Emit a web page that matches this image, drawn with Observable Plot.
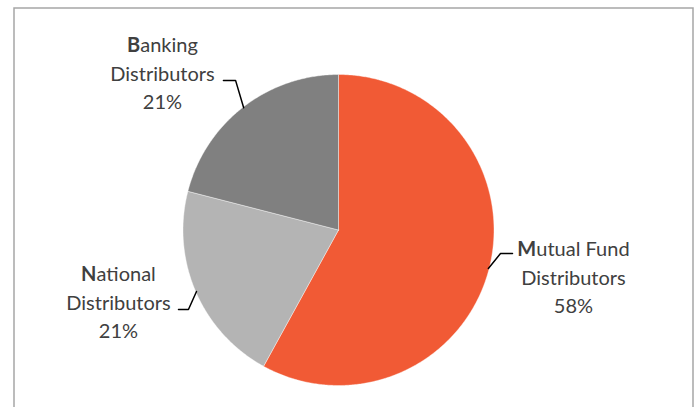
<!DOCTYPE html>
<html>
<head>
<meta charset="utf-8">
<script src="https://cdn.jsdelivr.net/npm/d3@7"></script>
<script src="https://cdn.jsdelivr.net/npm/@observablehq/plot@0.6"></script>
<style>
  html, body { margin: 0; padding: 0; background: #fff; overflow: hidden; }
</style>
</head>
<body>
<div id="chart"></div>
<script>
// ---- data ----
const categories = ["Mutual Fund Distributors", "National Distributors", "Banking Distributors"];
const labelLines = ["Mutual Fund\nDistributors", "National\nDistributors", "Banking\nDistributors"];
const shares = [58, 21, 21];
const colors = ["#F15A35", "#B4B4B4", "#808080"];

// ---- layout (not data) ----
const labelPos = [
  {x: 1.511, y: -0.293, elbow: [1.119, 1.042]},
  {x: -1.415, y: -0.453, elbow: [-1.029, -0.965]},
  {x: -1.132, y: 1.019, elbow: [-0.740, -0.662]}
];
const elbowY = [-0.151, -0.511, 0.962];

const arcs = d3.pie().sort(null).value(d => d)(shares);

// slice polygons in unit-circle data space (angle 0 at top, clockwise)
const slicePts = [];
arcs.forEach((a, i) => {
  const cat = categories[i];
  slicePts.push({cat, x: 0, y: 0});
  const n = Math.max(2, Math.ceil((a.endAngle - a.startAngle) / (Math.PI / 360)));
  for (let k = 0; k <= n; k++) {
    const t = a.startAngle + (a.endAngle - a.startAngle) * k / n;
    slicePts.push({cat, x: Math.sin(t), y: Math.cos(t)});
  }
  slicePts.push({cat, x: 0, y: 0});
});

const labels = arcs.map((a, i) => ({
  cat: categories[i],
  text: labelLines[i] + "\n" + shares[i] + "%",
  x: labelPos[i].x,
  y: labelPos[i].y
}));

// leader lines: label elbow -> edge of slice at its mid-angle
const leaders = [];
arcs.forEach((a, i) => {
  const m = (a.startAngle + a.endAngle) / 2;
  const cat = categories[i];
  leaders.push({cat, x: labelPos[i].elbow[0], y: elbowY[i]});
  leaders.push({cat, x: labelPos[i].elbow[1], y: elbowY[i]});
  leaders.push({cat, x: Math.sin(m) * 0.995, y: Math.cos(m) * 0.995});
});

const cx = 338, cy = 229.5, r = 155.5;

const plot = Plot.plot({
  width: 696,
  height: 407,
  margin: 0,
  x: {domain: [-1, 1], range: [cx - r, cx + r], axis: null},
  y: {domain: [-1, 1], range: [cy + r, cy - r], axis: null},
  color: {domain: categories, range: colors},
  style: {fontFamily: "Lato, 'Noto Sans', sans-serif", background: "#fff"},
  marks: [
    Plot.frame({stroke: "#a6a6a6", strokeWidth: 1.5, insetLeft: 13.5, insetTop: 7.5, insetRight: 3.5, insetBottom: -10}),
    Plot.line(slicePts, {x: "x", y: "y", z: "cat", fill: "cat", stroke: "#fff", strokeWidth: 0.4, curve: "linear"}),
    Plot.line(leaders, {x: "x", y: "y", z: "cat", stroke: "#000", strokeWidth: 1.5}),
    Plot.text(labels, {x: "x", y: "y", text: "text", fontSize: 20, lineHeight: 1.43, fill: "#404040", textAnchor: "middle"})
  ]
});

// bold the first letter of each label
plot.querySelectorAll("g[aria-label='text'] text").forEach(t => {
  const first = t.querySelector("tspan");
  if (!first) return;
  const s = first.textContent;
  first.textContent = "";
  const b = document.createElementNS("http://www.w3.org/2000/svg", "tspan");
  b.setAttribute("font-weight", "bold");
  b.textContent = s.charAt(0);
  first.appendChild(b);
  first.appendChild(document.createTextNode(s.slice(1)));
});

document.getElementById("chart").appendChild(plot);
</script>
</body>
</html>
